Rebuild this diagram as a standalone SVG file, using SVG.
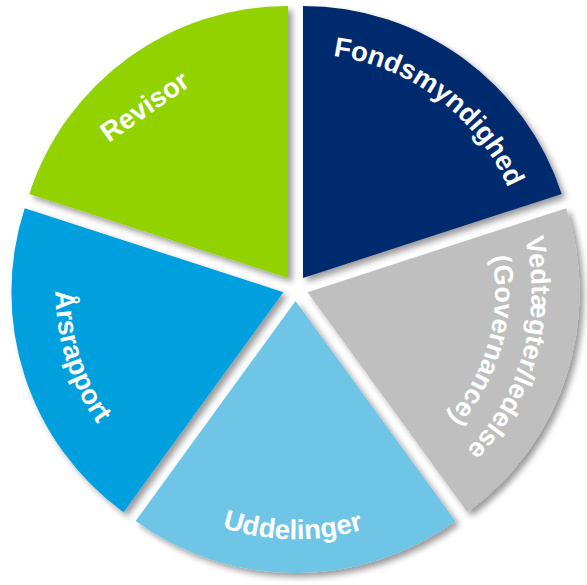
<svg xmlns="http://www.w3.org/2000/svg" xmlns:xlink="http://www.w3.org/1999/xlink" width="587" height="585" viewBox="0 0 587 585">
  <defs>
    <filter id="shadow" x="-20%" y="-20%" width="140%" height="140%">
      <feDropShadow dx="4" dy="4" stdDeviation="3" flood-color="#000" flood-opacity="0.4"/>
    </filter>
    <path id="p-fond" d="M-152.8,-163.8 A224,224 0 0 1 199.6,101.7"/>
    <path id="p-ved" d="M96.1,-202.3 A224,224 0 0 1 -21.1,223.0"/>
    <path id="p-gov" d="M80.6,-169.7 A188,188 0 0 1 -18.0,187.1"/>
    <path id="p-udd" d="M-234.9,38.5 A238,238 0 0 0 233.9,44.2"/>
    <path id="p-aars" d="M-105.3,-202.2 A228,228 0 0 0 29.8,226.0"/>
  </defs>
  <style>
    .slice { filter: url(#shadow); }
    .lbl { font-family: "Liberation Sans", Arial, sans-serif; font-weight: bold; fill: #ffffff; font-size: 27.5px; }
    .sm { font-size: 26.8px; }
  </style>
  <rect width="587" height="585" fill="#ffffff"/>

  <g id="fondsmyndighed" transform="translate(303,278)">
    <path class="slice" d="M0,0 L0,-272 A272,272 0 0 1 258.69,-84.05 Z" fill="#00296E"/>
    <text class="lbl"><textPath xlink:href="#p-fond" href="#p-fond" startOffset="50%" text-anchor="middle">Fondsmyndighed</textPath></text>
  </g>

  <g id="vedtaegter" transform="translate(307.6,292.2)">
    <path class="slice" d="M0,0 L258.69,-84.05 A272,272 0 0 1 159.88,220.05 Z" fill="#BFBFBF"/>
    <text class="lbl sm"><textPath xlink:href="#p-ved" href="#p-ved" startOffset="50%" text-anchor="middle">Vedtægter/ledelse</textPath></text>
    <text class="lbl sm"><textPath xlink:href="#p-gov" href="#p-gov" startOffset="50%" text-anchor="middle">(Governance)</textPath></text>
  </g>

  <g id="uddelinger" transform="translate(295.5,301)">
    <path class="slice" d="M0,0 L159.88,220.05 A272,272 0 0 1 -159.88,220.05 Z" fill="#6EC5E6"/>
    <text class="lbl"><textPath xlink:href="#p-udd" href="#p-udd" startOffset="50%" text-anchor="middle">Uddelinger</textPath></text>
  </g>

  <g id="aarsrapport" transform="translate(283.4,292.2)">
    <path class="slice" d="M0,0 L-159.88,220.05 A272,272 0 0 1 -258.69,-84.05 Z" fill="#00A0DF"/>
    <text class="lbl"><textPath xlink:href="#p-aars" href="#p-aars" startOffset="50%" text-anchor="middle">Årsrapport</textPath></text>
  </g>

  <g id="revisor" transform="translate(288,278)">
    <path class="slice" d="M0,0 L-258.69,-84.05 A272,272 0 0 1 0,-272 Z" fill="#92D200"/>
    <text class="lbl" text-anchor="middle" transform="translate(-138,-164) rotate(-35)">Revisor</text>
  </g>
</svg>
